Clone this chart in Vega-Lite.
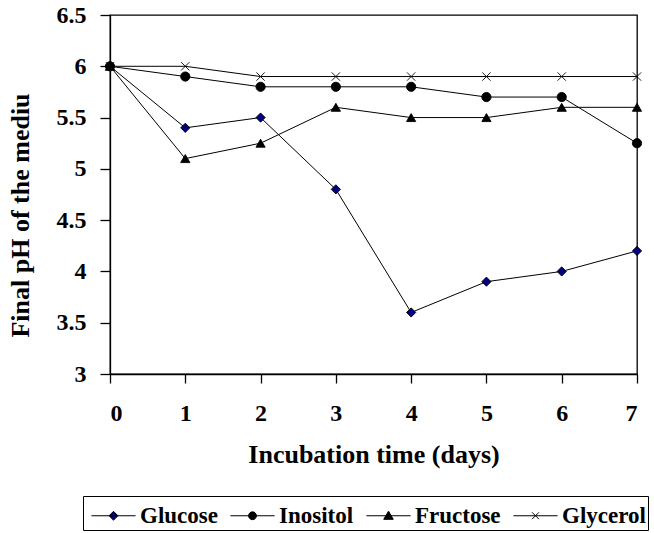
{
  "$schema": "https://vega.github.io/schema/vega-lite/v6.json",
  "width": 527,
  "height": 359,
  "autosize": "none",
  "padding": {"left": 110, "top": 15, "right": 17, "bottom": 159},
  "background": "white",
  "config": {
    "font": "Liberation Serif",
    "view": {"stroke": "black", "strokeWidth": 1.3},
    "axis": {
      "labelFont": "Liberation Serif", "labelFontWeight": "bold", "labelFontSize": 24, "labelColor": "black",
      "titleFont": "Liberation Serif", "titleFontWeight": "bold", "titleFontSize": 26, "titleColor": "black",
      "domainColor": "black", "domainWidth": 1.3, "tickColor": "black", "tickWidth": 1.3, "grid": false
    }
  },
  "data": {"values": [
    {"day": 0, "pH": 6.0, "series": "Glucose"},
    {"day": 1, "pH": 5.4, "series": "Glucose"},
    {"day": 2, "pH": 5.5, "series": "Glucose"},
    {"day": 3, "pH": 4.8, "series": "Glucose"},
    {"day": 4, "pH": 3.6, "series": "Glucose"},
    {"day": 5, "pH": 3.9, "series": "Glucose"},
    {"day": 6, "pH": 4.0, "series": "Glucose"},
    {"day": 7, "pH": 4.2, "series": "Glucose"},
    {"day": 0, "pH": 6.0, "series": "Inositol"},
    {"day": 1, "pH": 5.9, "series": "Inositol"},
    {"day": 2, "pH": 5.8, "series": "Inositol"},
    {"day": 3, "pH": 5.8, "series": "Inositol"},
    {"day": 4, "pH": 5.8, "series": "Inositol"},
    {"day": 5, "pH": 5.7, "series": "Inositol"},
    {"day": 6, "pH": 5.7, "series": "Inositol"},
    {"day": 7, "pH": 5.25, "series": "Inositol"},
    {"day": 0, "pH": 6.0, "series": "Fructose"},
    {"day": 1, "pH": 5.1, "series": "Fructose"},
    {"day": 2, "pH": 5.25, "series": "Fructose"},
    {"day": 3, "pH": 5.6, "series": "Fructose"},
    {"day": 4, "pH": 5.5, "series": "Fructose"},
    {"day": 5, "pH": 5.5, "series": "Fructose"},
    {"day": 6, "pH": 5.6, "series": "Fructose"},
    {"day": 7, "pH": 5.6, "series": "Fructose"},
    {"day": 0, "pH": 6.0, "series": "Glycerol"},
    {"day": 1, "pH": 6.0, "series": "Glycerol"},
    {"day": 2, "pH": 5.9, "series": "Glycerol"},
    {"day": 3, "pH": 5.9, "series": "Glycerol"},
    {"day": 4, "pH": 5.9, "series": "Glycerol"},
    {"day": 5, "pH": 5.9, "series": "Glycerol"},
    {"day": 6, "pH": 5.9, "series": "Glycerol"},
    {"day": 7, "pH": 5.9, "series": "Glycerol"}
  ]},
  "encoding": {
    "x": {"field": "day", "type": "quantitative",
      "scale": {"domain": [0, 7], "nice": false, "zero": false},
      "axis": {"title": "Incubation time (days)", "values": [0,1,2,3,4,5,6,7], "tickSize": 9, "labelPadding": 18, "titlePadding": 16, "format": "d"}},
    "y": {"field": "pH", "type": "quantitative",
      "scale": {"domain": [3, 6.5], "nice": false, "zero": false},
      "axis": {"title": "Final pH of the mediu", "values": [3,3.5,4,4.5,5,5.5,6,6.5], "format": "~g", "tickSize": 10, "labelPadding": 14,
        "titleX": -90, "titleY": 200, "titleAngle": -90, "titleAlign": "center", "titleBaseline": "middle"}}
  },
  "layer": [
    {
      "mark": {"type": "line", "color": "black", "strokeWidth": 1},
      "encoding": {"detail": {"field": "series"}}
    },
    {
      "mark": {"type": "point", "filled": false, "size": 85, "stroke": "black", "strokeWidth": 0.9, "opacity": 1},
      "encoding": {
        "shape": {"field": "series", "type": "nominal",
          "scale": {"domain": ["Glucose", "Inositol", "Fructose", "Glycerol"],
            "range": ["diamond", "circle", "triangle-up", "M-0.9,-0.9L0.9,0.9M-0.9,0.9L0.9,-0.9"]},
          "legend": null},
        "fill": {"field": "series", "type": "nominal",
          "scale": {"domain": ["Glucose", "Inositol", "Fructose", "Glycerol"],
            "range": ["#000080", "black", "black", "black"]},
          "legend": null}
      }
    },
    {
      "transform": [{"filter": "datum.day < 0"}],
      "mark": {"type": "point", "filled": false, "stroke": "black", "strokeWidth": 1, "opacity": 1},
      "encoding": {
        "shape": {"field": "series", "type": "nominal",
          "scale": {"domain": ["Glucose", "Inositol", "Fructose", "Glycerol"],
            "range": ["M-1.3,0H1.3M0,-0.26L0.26,0L0,0.26L-0.26,0Z", "M-1.3,0H1.3M-0.23,0A0.23,0.23 0 1,0 0.23,0A0.23,0.23 0 1,0 -0.23,0Z", "M-1.3,0H1.3M0,-0.27L0.28,0.21L-0.28,0.21Z", "M-1.3,0H1.3M-0.2,-0.2L0.2,0.2M-0.2,0.2L0.2,-0.2"]},
          "legend": {
            "title": null, "orient": "none", "legendX": -27, "legendY": 481, "direction": "horizontal",
            "strokeColor": "black", "padding": 2, "fillColor": "white",
            "symbolSize": 1156, "symbolOffset": 11, "symbolStrokeWidth": 1, "symbolStrokeColor": "black", "symbolOpacity": 1,
            "labelFont": "Liberation Serif", "labelFontWeight": "bold", "labelFontSize": 23, "labelColor": "black",
            "labelOffset": 9, "columnPadding": 6,
            "encode": {"symbols": {"update": {"stroke": {"value": "black"}, "strokeWidth": {"value": 1}}}}
          }},
        "fill": {"field": "series", "type": "nominal",
          "scale": {"domain": ["Glucose", "Inositol", "Fructose", "Glycerol"],
            "range": ["#000080", "black", "black", "black"]},
          "legend": {
            "title": null, "orient": "none", "legendX": -27, "legendY": 481, "direction": "horizontal",
            "strokeColor": "black", "padding": 2, "fillColor": "white",
            "symbolSize": 1156, "symbolOffset": 11, "symbolStrokeWidth": 1, "symbolStrokeColor": "black", "symbolOpacity": 1,
            "labelFont": "Liberation Serif", "labelFontWeight": "bold", "labelFontSize": 23, "labelColor": "black",
            "labelOffset": 9, "columnPadding": 6,
            "encode": {"symbols": {"update": {"stroke": {"value": "black"}, "strokeWidth": {"value": 1}}}}
          }}
      }
    }
  ],
  "resolve": {"scale": {"shape": "independent", "fill": "independent"}}
}
